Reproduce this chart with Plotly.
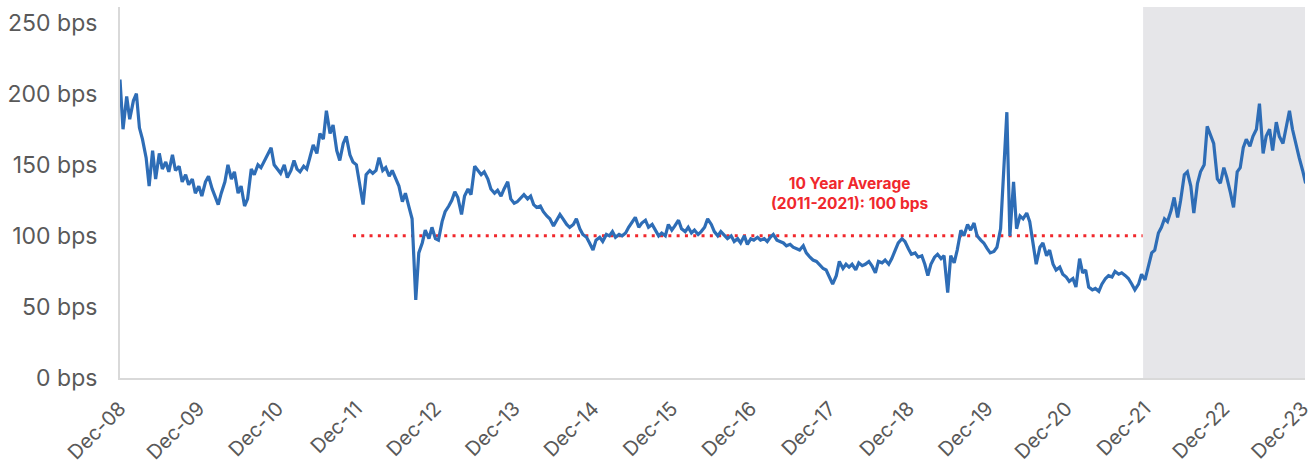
import pandas as pd
import plotly.graph_objects as go

# semi-monthly observations, Dec-2008 .. Dec-2023 (bps)
spread_bps = [
    # Dec08-Nov09
    210, 175, 198, 182, 195, 200, 176, 168, 155, 135, 160, 140, 158, 147, 152, 145, 157, 146, 149, 138, 143, 136, 140, 130,
    # Dec09-Nov10
    135, 128, 138, 142, 133, 128, 122, 130, 138, 150, 140, 145, 130, 135, 121, 126, 147, 143, 150, 148, 153, 157, 162, 150,
    # Dec10-Nov11
    147, 144, 150, 141, 146, 153, 147, 145, 149, 147, 156, 164, 158, 172, 168, 188, 172, 178, 160, 153, 165, 170, 157, 152,
    # Dec11-Nov12
    150, 138, 122, 143, 146, 144, 146, 155, 146, 148, 142, 146, 140, 135, 124, 130, 120, 112, 55, 88, 95, 104, 98, 106,
    # Dec12-Nov13
    98, 97, 110, 117, 121, 125, 131, 127, 115, 128, 133, 129, 149, 146, 143, 145, 140, 133, 130, 132, 128, 133, 138, 126,
    # Dec13-Nov14
    123, 124, 127, 129, 126, 128, 122, 120, 121, 117, 114, 112, 107, 111, 115, 112, 108, 106, 108, 112, 105, 101, 99, 95,
    # Dec14-Nov15
    90, 97, 99, 96, 101, 100, 103, 99, 101, 100, 102, 106, 110, 113, 106, 109, 111, 106, 108, 104, 100, 102, 100, 108,
    # Dec15-Nov16
    104, 107, 111, 105, 103, 106, 102, 104, 101, 103, 106, 112, 108, 103, 100, 103, 100, 98, 100, 96, 98, 95, 100, 94,
    # Dec16-Nov17
    98, 97, 99, 97, 98, 96, 99, 101, 97, 96, 95, 93, 94, 92, 91, 90, 93, 88, 85, 83, 82, 80, 77, 76,
    # Dec17-Nov18
    70, 66, 72, 82, 77, 80, 78, 80, 76, 81, 79, 80, 82, 79, 74, 82, 81, 83, 80, 84, 90, 95, 98, 96,
    # Dec18-Nov19
    91, 87, 88, 85, 86, 80, 72, 80, 85, 87, 84, 86, 60, 86, 81, 90, 104, 100, 108, 104, 109, 100, 97, 95,
    # Dec19-Nov20
    91, 88, 89, 92, 105, 150, 187, 100, 138, 105, 114, 112, 116, 110, 94, 80, 92, 95, 86, 90, 80, 76, 78, 73,
    # Dec20-Nov21
    71, 68, 70, 64, 84, 74, 76, 64, 62, 63, 61, 66, 70, 72, 71, 75, 73, 74, 72, 70, 66, 62, 66, 73,
    # Dec21-Nov22
    69, 78, 88, 90, 102, 106, 112, 110, 118, 127, 113, 125, 143, 145, 135, 116, 137, 145, 150, 177, 170, 165, 140, 137,
    # Dec22-Dec23
    148, 141, 130, 120, 145, 148, 162, 168, 163, 170, 175, 193, 158, 170, 175, 160, 180, 170, 165, 175, 188, 175, 163, 155, 146, 137,
]
dates = pd.date_range("2008-12-01", periods=len(spread_bps), freq="SMS")

tick_dates = [f"{y}-12-01" for y in range(2008, 2024)]
tick_labels = [f"Dec-{str(y)[2:]}" for y in range(2008, 2024)]
y_ticks = [0, 50, 100, 150, 200, 250]
y_labels = [f"{v} bps" for v in y_ticks]

avg_value = 100
avg_start, avg_end = "2011-11-15", "2021-11-20"
shade_start, x_end = "2021-11-22", "2023-12-12"

BLUE = "#2E6DB6"
RED = "#F0282D"
GREY = "#595959"

fig = go.Figure()
fig.add_shape(type="rect", xref="x", yref="paper", x0=shade_start, x1=x_end, y0=0, y1=1,
              fillcolor="#E6E6E9", line=dict(width=0), layer="below")
fig.add_trace(go.Scatter(x=[avg_start, avg_end], y=[avg_value, avg_value], mode="lines",
                         line=dict(color=RED, width=3, dash="3px,5.3px"), hoverinfo="skip"))
fig.add_trace(go.Scatter(x=dates, y=spread_bps, mode="lines",
                         line=dict(color=BLUE, width=3.2)))
fig.add_annotation(x="2018-03-05", y=130, xref="x", yref="y",
                   text="<b>10 Year Average<br>(2011-2021): 100 bps</b>",
                   showarrow=False, font=dict(color=RED, size=15.5, family="Inter"),
                   align="center", yanchor="middle")

fig.update_layout(
    width=1310, height=467,
    margin=dict(l=120, r=5, t=7, b=89),
    paper_bgcolor="white", plot_bgcolor="white",
    showlegend=False,
    font=dict(family="Inter", color=GREY, size=20),
)
fig.update_xaxes(type="date", range=["2008-12-01", x_end], tickvals=tick_dates, ticktext=tick_labels,
                 tickangle=-45, showgrid=False, zeroline=False, showline=True, linecolor="#D9D9D9",
                 linewidth=2, ticks="outside", ticklen=9, tickcolor="rgba(255,255,255,0)",
                 ticklabeloverflow="allow", automargin=False, tickfont=dict(size=20, color=GREY))
fig.update_yaxes(range=[0, 261], tickvals=y_ticks, ticktext=y_labels, showgrid=False, zeroline=False,
                 showline=True, linecolor="#D9D9D9", linewidth=2, ticks="", ticklabelstandoff=16,
                 automargin=False, tickfont=dict(size=23, color=GREY))

fig.write_html("out.html", config={"displayModeBar": False},
               post_script="document.body.style.margin='0px';document.body.style.overflow='hidden';")
